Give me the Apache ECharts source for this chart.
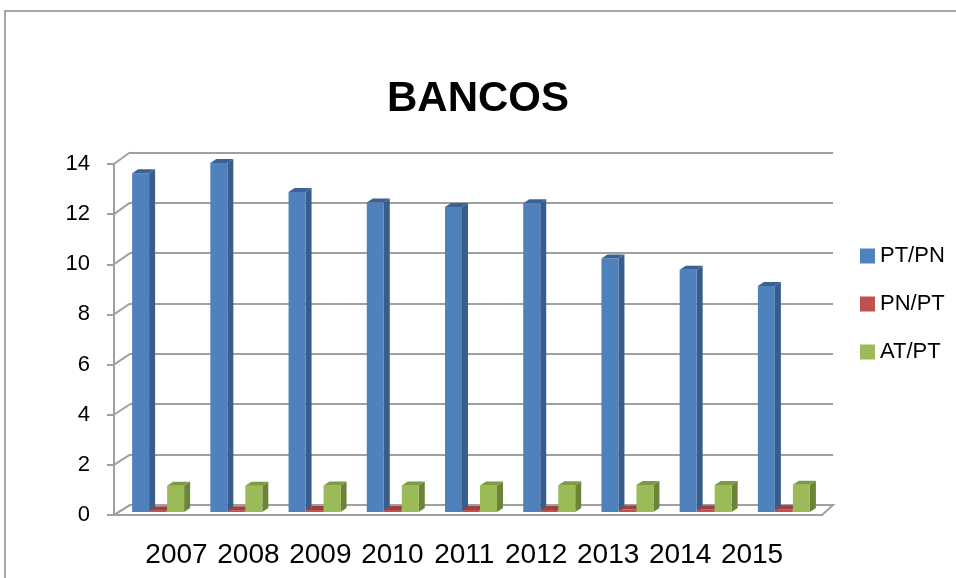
<!DOCTYPE html>
<html><head><meta charset="utf-8">
<script src="https://cdn.jsdelivr.net/npm/echarts@6/dist/echarts.min.js"></script>
<style>html,body{margin:0;padding:0;background:#fff}#c{width:956px;height:578px}</style>
</head><body><div id="c"></div>
<script>
const categories = ['2007','2008','2009','2010','2011','2012','2013','2014','2015'];
const ptpn = [13.5, 13.9, 12.75, 12.33, 12.15, 12.3, 10.1, 9.65, 9.0];
const pnpt = [0.074, 0.072, 0.078, 0.081, 0.082, 0.081, 0.099, 0.104, 0.111];
const atpt = [1.05, 1.05, 1.06, 1.06, 1.06, 1.07, 1.08, 1.08, 1.09];
const seriesNames = ['PT/PN', 'PN/PT', 'AT/PT'];
const yMin = 0, yMax = 14, yStep = 2;

const palette = [
  {front:'#4F81BD', side:'#385D8A', top:'#3B6296'},
  {front:'#C0504D', side:'#8C3836', top:'#A13F3C'},
  {front:'#9BBB59', side:'#6B8538', top:'#7D9B42'}
];
const offsets = [-17.5, 0, 17.5];
const GRID = '#A0A0A0';

function makeRender(k){
  const c = palette[k], off = offsets[k];
  return function(params, api){
    const i = api.value(0), v = api.value(1);
    const t = api.coord([i, v]), b = api.coord([i, 0]);
    const w = 17, dx = 6, dy = -4;
    const cx = t[0] + off, x0 = cx - w/2, x1 = cx + w/2;
    const yt = t[1], yb = b[1];
    return {type:'group', children:[
      {type:'polygon', shape:{points:[[x1,yt],[x1+dx,yt+dy],[x1+dx,yb+dy],[x1,yb]]}, style:{fill:c.side}},
      {type:'rect', shape:{x:x0, y:yt, width:w, height:Math.max(yb-yt,0.5)}, style:{fill:c.front}},
      {type:'polygon', shape:{points:[[x0,yt],[x1,yt],[x1+dx,yt+dy],[x0+dx,yt+dy]]}, style:{fill:c.top}}
    ]};
  };
}
const dataSets = [ptpn, pnpt, atpt];

const chart = echarts.init(document.getElementById('c'), null, {renderer:'canvas'});
const hiddenAxis = {show:false};
chart.setOption({
  animation:false,
  backgroundColor:'#fff',
  title:{text:'BANCOS', left:'center', top:73,
    textStyle:{fontFamily:'Liberation Sans', fontWeight:'bold', fontSize:42, color:'#000'}},
  legend:{orient:'vertical', left:855, top:240, itemWidth:15, itemHeight:15, itemGap:26, icon:'rect',
    data:seriesNames,
    textStyle:{fontFamily:'Liberation Sans', fontSize:22, color:'#000', lineHeight:22}},
  grid:[
    {left:119, right:133, top:160.6, bottom:66},   // bars
    {left:130, right:123, top:152.3, bottom:73},   // back wall
    {left:114, right:134, top:164, bottom:63},     // front axis
    {left:140.5, right:168, top:400, bottom:58}    // category labels
  ],
  xAxis:[
    {gridIndex:0, type:'category', data:categories, show:false},
    {gridIndex:1, type:'value', min:0, max:1, show:false},
    {gridIndex:2, type:'value', min:0, max:1, show:false},
    {gridIndex:3, type:'category', data:categories,
      axisLine:{show:false}, axisTick:{show:false},
      axisLabel:{margin:21, fontFamily:'Liberation Sans', fontSize:28, color:'#000', interval:0}}
  ],
  yAxis:[
    {gridIndex:0, type:'value', min:yMin, max:yMax, interval:yStep, show:false},
    {gridIndex:1, type:'value', min:yMin, max:yMax, interval:yStep,
      axisLine:{show:false}, axisTick:{show:false}, axisLabel:{show:false},
      splitLine:{show:true, lineStyle:{color:GRID, width:2}}},
    {gridIndex:2, type:'value', min:yMin, max:yMax, interval:yStep,
      axisLine:{show:true, lineStyle:{color:GRID, width:2}},
      axisTick:{show:true, length:7, lineStyle:{color:GRID, width:2}},
      axisLabel:{margin:24, fontFamily:'Liberation Sans', fontSize:22, color:'#000'},
      splitLine:{show:false}},
    {gridIndex:3, type:'value', show:false}
  ],
  series: seriesNames.map((n,k)=>({
    name:n, type:'custom', xAxisIndex:0, yAxisIndex:0, z:5,
    itemStyle:{color:palette[k].front},
    renderItem:makeRender(k),
    encode:{x:0, y:1},
    data: dataSets[k].map((v,i)=>[i, v])
  }))
});

// 3D frame: floor and wall connectors derived from the axes' scales
const f = (x,y)=>chart.convertToPixel({gridIndex:2},[x,y]);
const b = (x,y)=>chart.convertToPixel({gridIndex:1},[x,y]);
const g = [];
g.push({type:'rect', shape:{x:5, y:11, width:1000, height:1000}, style:{fill:'none', stroke:'#8A8A8A', lineWidth:1.5}, z:0, silent:true});
g.push({type:'polygon', shape:{points:[f(0,0), f(1,0), b(1,0), b(0,0)]}, style:{fill:'#fff', stroke:GRID, lineWidth:2}, z:1});
for (let v = yMin; v <= yMax; v += yStep){
  const p = f(0,v), q = b(0,v);
  g.push({type:'line', shape:{x1:p[0], y1:p[1], x2:q[0], y2:q[1]}, style:{stroke:GRID, lineWidth:2}, z:1});
}
chart.setOption({graphic:g});
</script></body></html>
